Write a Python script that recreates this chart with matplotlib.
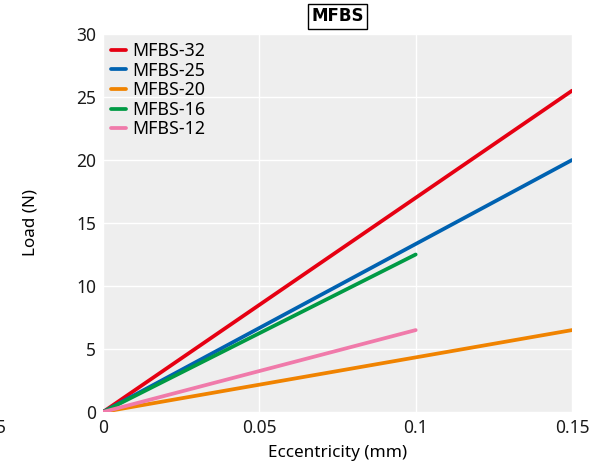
import matplotlib.pyplot as plt

plt.rcParams['font.family'] = ['Noto Sans', 'Noto Sans CJK JP', 'DejaVu Sans']

# data
ecc_long = [0, 0.15]
ecc_short = [0, 0.1]
series = [
    ('MFBS-32', ecc_long, [0, 25.5], '#e60012'),
    ('MFBS-25', ecc_long, [0, 20.0], '#0062b1'),
    ('MFBS-20', ecc_long, [0, 6.5], '#f08300'),
    ('MFBS-16', ecc_short, [0, 12.5], '#009a44'),
    ('MFBS-12', ecc_short, [0, 6.5], '#f07aaa'),
]
x_ticks = [0, 0.05, 0.1, 0.15]
x_tick_labels = ['0', '0.05', '0.1', '0.15']
y_ticks = [0, 5, 10, 15, 20, 25, 30]

fig = plt.figure(figsize=(5.91, 4.67), dpi=100)
ax = fig.add_axes([0.1743, 0.1178, 0.7936, 0.8094])
ax.set_facecolor('#eeeeee')

for name, xs, ys, col in series:
    ax.plot(xs, ys, color=col, lw=2.7, label=name, solid_capstyle='round')

ax.set_xlim(0, 0.15)
ax.set_ylim(0, 30)
ax.set_xticks(x_ticks)
ax.set_xticklabels(x_tick_labels)
ax.set_yticks(y_ticks)
ax.tick_params(length=0, labelsize=12.5, colors='#1a1a1a', pad=5)
ax.grid(True, color='white', lw=1)
ax.set_axisbelow(True)
for s in ax.spines.values():
    s.set_visible(False)

ax.set_xlabel('Eccentricity (mm)', fontsize=12.3, labelpad=6)
ax.set_ylabel('Load (N)', fontsize=12.3, labelpad=27)

ax.set_title('MFBS', fontsize=12, fontweight='bold', family='DejaVu Sans', pad=9,
             bbox=dict(boxstyle='square,pad=0.2', fc='white', ec='black', lw=1))

ax.legend(loc='upper left', frameon=False, fontsize=12.8, handlelength=0.85,
          handletextpad=0.35, labelspacing=0.09, borderaxespad=0.15,
          borderpad=0.3)

# cut-off tick label fragment at the left edge
fig.text(0.010, 0.083, '5', fontsize=12.5, ha='right', va='center', color='#1a1a1a')

fig.savefig('out.png', dpi=100)
